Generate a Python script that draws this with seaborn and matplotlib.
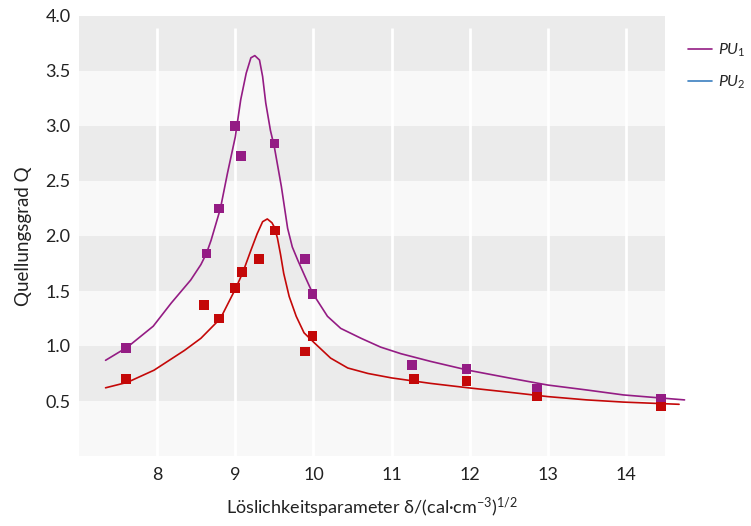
import numpy as np
import pandas as pd
import matplotlib
matplotlib.use("Agg")
import matplotlib.pyplot as plt
import seaborn as sns
from matplotlib.lines import Line2D

# measured points
pu1_x = [7.60, 8.63, 8.79, 9.00, 9.07, 9.50, 9.89, 9.99, 11.26, 11.96, 12.86, 14.45]
pu1_q = [0.98, 1.84, 2.25, 3.00, 2.73, 2.84, 1.79, 1.47, 0.83, 0.79, 0.61, 0.52]
pu2_x = [7.60, 8.60, 8.79, 9.00, 9.09, 9.30, 9.51, 9.89, 9.99, 11.29, 11.96, 12.86, 14.45]
pu2_q = [0.70, 1.37, 1.25, 1.53, 1.67, 1.79, 2.05, 0.95, 1.09, 0.70, 0.68, 0.54, 0.45]

# fitted curves
fit1_x = [7.34, 7.62, 7.95, 8.18, 8.43, 8.56, 8.63, 8.69, 8.81, 8.90, 9.00, 9.07, 9.14,
          9.20, 9.25, 9.31, 9.35, 9.39, 9.45, 9.50, 9.59, 9.67, 9.73, 9.80, 9.90,
          9.99, 10.18, 10.35, 10.61, 10.86, 11.12, 11.50, 11.98, 12.50, 13.00,
          13.50, 13.97, 14.40, 14.75]
fit1_q = [0.87, 0.99, 1.18, 1.39, 1.60, 1.74, 1.84, 1.96, 2.25, 2.57, 2.90, 3.24, 3.48,
          3.62, 3.64, 3.60, 3.45, 3.21, 2.96, 2.81, 2.45, 2.07, 1.90, 1.78, 1.62,
          1.48, 1.27, 1.16, 1.07, 0.99, 0.93, 0.86, 0.78, 0.71, 0.645,
          0.60, 0.555, 0.53, 0.51]
fit2_x = [7.34, 7.62, 7.96, 8.35, 8.56, 8.81, 9.01, 9.10, 9.20, 9.28, 9.35, 9.41, 9.47,
          9.50, 9.54, 9.58, 9.62, 9.69, 9.78, 9.88, 10.01, 10.22, 10.44, 10.70,
          11.00, 11.50, 11.98, 12.50, 13.00, 13.50, 13.97, 14.68]
fit2_q = [0.62, 0.67, 0.78, 0.96, 1.07, 1.25, 1.53, 1.675, 1.87, 2.02, 2.13, 2.155, 2.12,
          2.08, 1.98, 1.83, 1.66, 1.45, 1.27, 1.12, 1.03, 0.89, 0.80, 0.75,
          0.71, 0.66, 0.62, 0.58, 0.54, 0.51, 0.49, 0.47]

xticks = [8, 9, 10, 11, 12, 13, 14]
yticks = [0.5, 1.0, 1.5, 2.0, 2.5, 3.0, 3.5, 4.0]

purple = "#941c84"
red = "#c40808"
blue = "#3b7fc0"

sns.set_style("white")
plt.rcParams["font.family"] = ["Lato", "DejaVu Sans"]
plt.rcParams["mathtext.fontset"] = "custom"
plt.rcParams["mathtext.it"] = "Lato:italic"
plt.rcParams["mathtext.rm"] = "Lato"

fig = plt.figure(figsize=(7.51, 5.26), dpi=100)
ax = fig.add_axes([79 / 751, 70 / 526, 586 / 751, 440 / 526])

# alternating bands
for i in range(8):
    lo = i * 0.5
    ax.axhspan(lo, lo + 0.5, color="#ebebeb" if i % 2 == 1 else "#f8f8f8", lw=0, zorder=0)
ax.vlines(xticks, 0, 3.89, color="white", lw=2, zorder=1)

fit1 = pd.DataFrame({"x": fit1_x, "q": fit1_q})
fit2 = pd.DataFrame({"x": fit2_x, "q": fit2_q})
sns.lineplot(data=fit1, x="x", y="q", ax=ax, color=purple, lw=1.2, sort=False,
             estimator=None, clip_on=False, zorder=3)
sns.lineplot(data=fit2, x="x", y="q", ax=ax, color=red, lw=1.2, sort=False,
             estimator=None, clip_on=False, zorder=3)

sns.scatterplot(x=pu1_x, y=pu1_q, ax=ax, marker="s", s=48, color=purple,
                edgecolor="none", zorder=4, clip_on=False)
sns.scatterplot(x=pu2_x, y=pu2_q, ax=ax, marker="s", s=48, color=red,
                edgecolor="none", zorder=4, clip_on=False)

ax.set_xlim(7.0, 14.5)
ax.set_ylim(0, 4.0)
ax.set_xticks(xticks)
ax.set_yticks(yticks)
ax.set_yticklabels([f"{v:.1f}" for v in yticks])
ax.tick_params(length=0, labelsize=13, colors="#222222", pad=6)
ax.tick_params(axis="x", pad=8)
for s in ax.spines.values():
    s.set_visible(False)

ax.set_xlabel(r"Löslichkeitsparameter δ/(cal·cm$^{-3}$)$^{1/2}$", fontsize=13,
              color="#222222", labelpad=9)
ax.set_ylabel("Quellungsgrad Q", fontsize=13.5, color="#222222", labelpad=10)

handles = [Line2D([], [], color=purple, lw=1.2), Line2D([], [], color=blue, lw=1.2)]
fig.legend(handles, [r"$PU_1$", r"$PU_2$"], loc="upper left",
           bbox_to_anchor=(688 / 751, 1 - 42 / 526), frameon=False,
           fontsize=11.5, handlelength=1.5, handletextpad=0.4, labelspacing=0.9,
           borderaxespad=0, borderpad=0)

fig.savefig("out.png", dpi=100)
